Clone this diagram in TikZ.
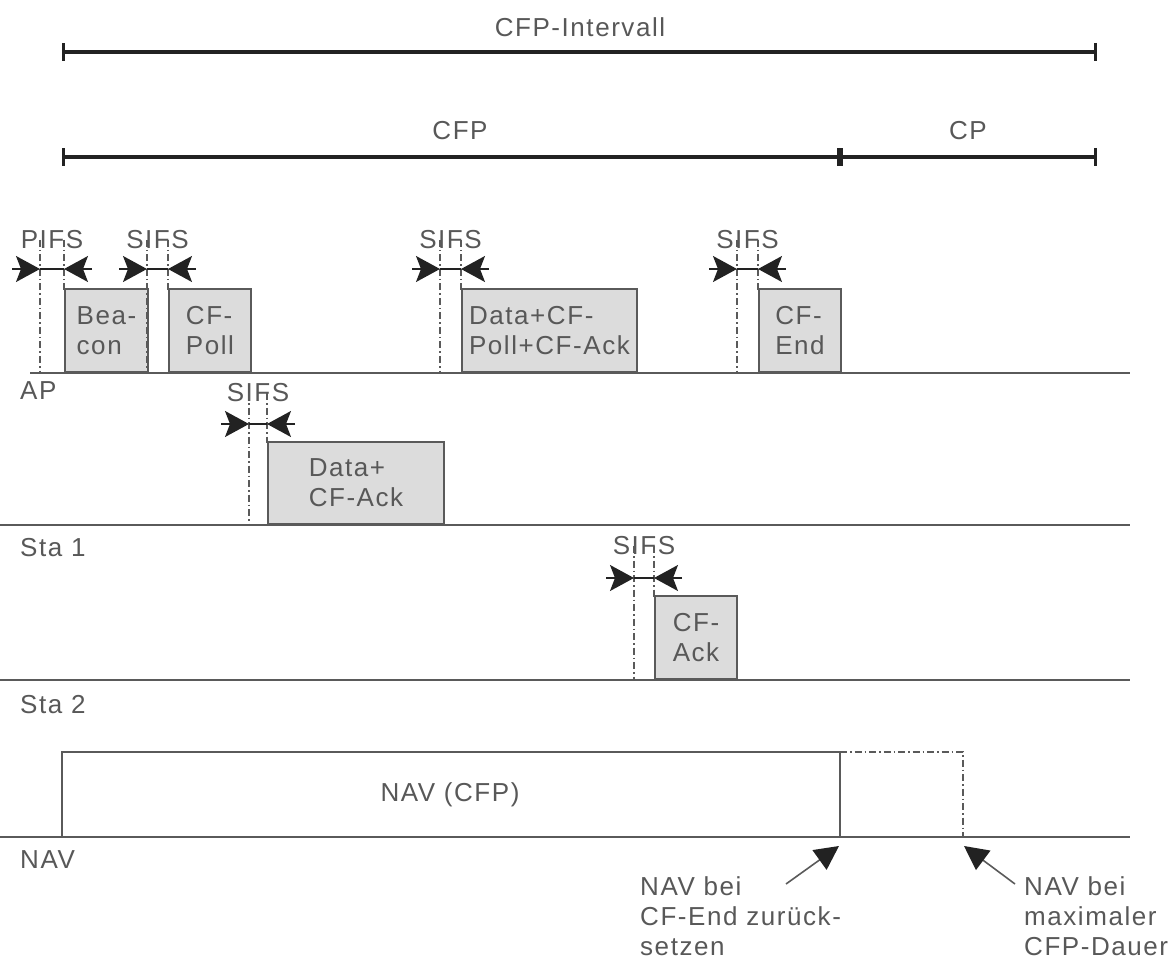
\documentclass[tikz,border=0pt]{standalone}
\usepackage{fontspec}
\setmainfont{Liberation Sans}[LetterSpace=6]
\usetikzlibrary{arrows.meta}
\definecolor{txtgray}{HTML}{585858}
\definecolor{linegray}{HTML}{5A5A5A}
\definecolor{boxfill}{HTML}{DCDCDC}
\definecolor{barblack}{HTML}{222222}
\tikzset{
  lbl/.style={text=txtgray, font=\fontsize{26}{30}\selectfont, inner sep=0pt},
  lblleft/.style={lbl, anchor=west, align=left},
  bar/.style={line width=3.2pt, draw=barblack, {Bar[width=18pt,line width=3.2pt]}-{Bar[width=18pt,line width=3.2pt]}},
  baseline/.style={draw=linegray, line width=2pt},
  frame/.style={draw=linegray, fill=boxfill, line width=2pt, anchor=south west, lbl, align=left},
  navframe/.style={draw=linegray, fill=white, line width=2pt},
  gapline/.style={draw=linegray, line width=1.4pt, dash pattern=on 7pt off 3pt on 1.5pt off 3pt},
  gaparrow/.style={draw=barblack, line width=1.4pt, -{Stealth[length=24pt,width=26pt,inset=5pt,color=barblack]}},
  gapbar/.style={draw=barblack, line width=1.4pt},
  navarrow/.style={draw=linegray, line width=1.6pt, -{Triangle[length=24pt,width=24pt,color=barblack]}}
}
% #1 name, #2 label, #3 x1, #4 x2, #5 y text, #6 y arrow, #7 y base, #8 y box top
\newcommand\gapmark[8]{%
  \node[lbl] (#1) at ({(#3+#4)/2},#5) {#2};
  \coordinate (#1l) at (#3,#6);
  \coordinate (#1r) at (#4,#6);
  \coordinate (#1lt) at ([xshift=-28pt]#1l);
  \coordinate (#1rt) at ([xshift=28pt]#1r);
  \draw[gapline] (#3,#5) -- (#3,#7);
  \draw[gapline] (#4,#5) -- (#4,#8);
  \draw[gapbar] (#1l) -- (#1r);
  \draw[gaparrow] (#1lt) -- (#1l);
  \draw[gaparrow] (#1rt) -- (#1r);
}
\begin{document}
\begin{tikzpicture}[x=1pt,y=-1pt]
\useasboundingbox (0,0) rectangle (1173,968);

% top intervals
\coordinate (ia) at (62,52);
\coordinate (ib) at (1097,52);
\draw[bar] (ia) -- (ib);
\node[lbl] (intervall) at (580,27) {CFP-Intervall};
\coordinate (ca) at (62,157);
\coordinate (cb) at (840,157);
\coordinate (cc) at (1097,157);
\draw[bar] (ca) -- (cb);
\draw[bar] (cb) -- (cc);
\node[lbl] (cfp) at (460,131) {CFP};
\node[lbl] (cp) at (968,131) {CP};

% baselines
\coordinate (apa) at (30,373);   \coordinate (apb) at (1130,373);
\coordinate (s1a) at (0,525);    \coordinate (s1b) at (1130,525);
\coordinate (s2a) at (0,680);    \coordinate (s2b) at (1130,680);
\coordinate (nva) at (0,837);    \coordinate (nvb) at (1130,837);
\draw[baseline] (apa) -- (apb);
\draw[baseline] (s1a) -- (s1b);
\draw[baseline] (s2a) -- (s2b);
\draw[baseline] (nva) -- (nvb);
\node[lblleft] (aplbl) at (20,391) {AP};
\node[lblleft] (s1lbl) at (20,548) {Sta 1};
\node[lblleft] (s2lbl) at (20,705) {Sta 2};
\node[lblleft] (navlbl) at (20,860) {NAV};

% frames
\node[frame, minimum width=83pt, minimum height=83pt] (beacon) at (64,373) {Bea-\\con};
\node[frame, minimum width=82pt, minimum height=83pt] (poll) at (168,373) {CF-\\Poll};
\node[frame, minimum width=175pt, minimum height=83pt] (datapoll) at (461,373) {Data+CF-\\Poll+CF-Ack};
\node[frame, minimum width=82pt, minimum height=83pt] (cfend) at (758,373) {CF-\\End};
\node[frame, minimum width=176pt, minimum height=82pt] (dataack) at (267,525) {Data+\\CF-Ack};
\node[frame, minimum width=82pt, minimum height=83pt] (cfack) at (654,680) {CF-\\Ack};

% gap markers
\gapmark{pifs}{PIFS}{40}{64}{240}{269}{373}{290}
\gapmark{sifsa}{SIFS}{147}{168}{240}{269}{373}{290}
\gapmark{sifsb}{SIFS}{440}{461}{240}{269}{373}{290}
\gapmark{sifsc}{SIFS}{737}{758}{240}{269}{373}{290}
\gapmark{sifsd}{SIFS}{249}{267}{393}{424}{525}{443}
\gapmark{sifse}{SIFS}{634}{654}{546}{578}{680}{597}

% NAV
\coordinate (nav1) at (62,752);
\coordinate (nav2) at (840,837);
\draw[navframe] (nav1) rectangle (nav2);
\node[lbl] (navtxt) at (450,795) {NAV (CFP)};
\coordinate (navx1) at (840,752);
\coordinate (navx2) at (963,752);
\coordinate (navx3) at (963,837);
\draw[gapline] (navx1) -- (navx2) -- (navx3);

% bottom annotations
\node[lblleft, anchor=north west] (note1) at (640,876) {NAV bei\\CF-End zurück-\\setzen};
\node[lblleft, anchor=north west] (note2) at (1024,876) {NAV bei\\maximaler\\CFP-Dauer};
\coordinate (t1) at (786,884);
\coordinate (h1) at (839,846);
\coordinate (t2) at (1015,884);
\coordinate (h2) at (964,846);
\draw[navarrow] (t1) -- (h1);
\draw[navarrow] (t2) -- (h2);
\end{tikzpicture}
\end{document}
